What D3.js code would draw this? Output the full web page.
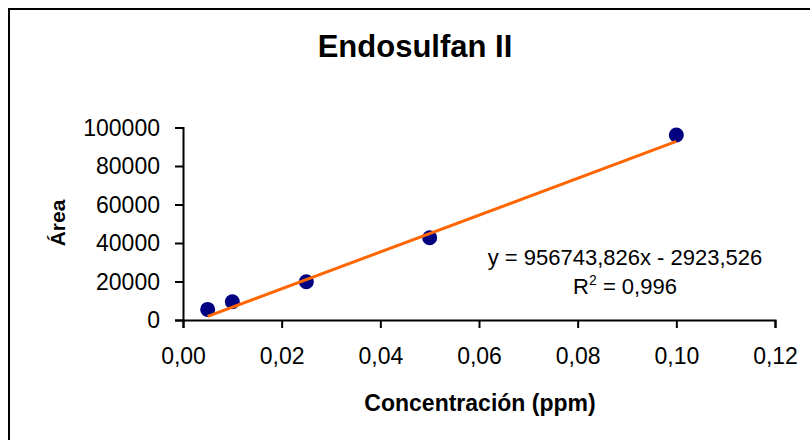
<!DOCTYPE html>
<html>
<head>
<meta charset="utf-8">
<script src="https://cdn.jsdelivr.net/npm/d3@7"></script>
<style>
  body { margin: 0; background: #fff; }
  text { font-family: Arial, "Liberation Sans", sans-serif; }
</style>
</head>
<body>
<div class="chart"></div>
<script>
// data
var concentrations = [0.005, 0.01, 0.025, 0.05, 0.1];
var areas = [5500, 9500, 19900, 42700, 96100];
var slope = 956743.826;
var intercept = -2923.526;
var xTicks = [0, 0.02, 0.04, 0.06, 0.08, 0.10, 0.12];
var yTicks = [0, 20000, 40000, 60000, 80000, 100000];

var svgWidth = 810;
var svgHeight = 440;

var margin = { top: 127.5, right: 34, bottom: 120, left: 183 };
var width = 775 - margin.left;
var height = 320 - margin.top;

var svg = d3.select(".chart")
    .append("svg")
    .attr("width", svgWidth)
    .attr("height", svgHeight);

// outer frame (runs past the window on the right and bottom)
svg.append("rect")
    .attr("x", 9).attr("y", 9)
    .attr("width", 820).attr("height", 450)
    .attr("fill", "none")
    .attr("stroke", "#000")
    .attr("stroke-width", 2);

var chartGroup = svg.append("g")
    .attr("transform", `translate(${margin.left}, ${margin.top})`);

var xScale = d3.scaleLinear().domain([0, 0.12]).range([0, width]);
var yScale = d3.scaleLinear().domain([0, 100000]).range([height, 0]);

var bottomAxis = d3.axisBottom(xScale)
    .tickValues(xTicks)
    .tickSize(8)
    .tickPadding(20)
    .tickFormat(d => d3.format(".2f")(d).replace(".", ","));
var leftAxis = d3.axisLeft(yScale)
    .tickValues(yTicks)
    .tickSize(8)
    .tickPadding(15)
    .tickFormat(d => String(d));

var xAxisG = chartGroup.append("g")
    .attr("transform", `translate(0, ${height})`)
    .call(bottomAxis);
var yAxisG = chartGroup.append("g")
    .call(leftAxis);

[xAxisG, yAxisG].forEach(function(g) {
    g.select(".domain").attr("stroke", "#000").attr("stroke-width", 2);
    g.selectAll(".tick line").attr("stroke", "#000").attr("stroke-width", 2);
    g.selectAll(".tick text")
        .attr("fill", "#000")
        .style("font-size", "23px")
        .style("font-family", "Arial, 'Liberation Sans', sans-serif");
});
yAxisG.selectAll(".tick text").attr("dy", "0.34em");

// data points
var points = concentrations.map((c, i) => ({ x: c, y: areas[i] }));
chartGroup.selectAll("circle")
    .data(points)
    .enter()
    .append("circle")
    .attr("cx", d => xScale(d.x))
    .attr("cy", d => yScale(d.y))
    .attr("r", 7.5)
    .attr("fill", "#000080");

// linear trendline
var xMin = d3.min(concentrations);
var xMax = d3.max(concentrations);
var trend = [xMin, xMax].map(x => ({ x: x, y: slope * x + intercept }));
chartGroup.append("path")
    .datum(trend)
    .attr("d", d3.line().x(d => xScale(d.x)).y(d => yScale(d.y)))
    .attr("fill", "none")
    .attr("stroke", "#FF6600")
    .attr("stroke-width", 3);

// title
svg.append("text")
    .attr("x", 415).attr("y", 57)
    .attr("text-anchor", "middle")
    .style("font-size", "31px")
    .style("font-weight", "bold")
    .text("Endosulfan II");

// axis titles
svg.append("text")
    .attr("x", 480).attr("y", 411)
    .attr("text-anchor", "middle")
    .style("font-size", "23px")
    .style("font-weight", "bold")
    .text("Concentración (ppm)");

svg.append("text")
    .attr("transform", "translate(65, 223) rotate(-90)")
    .attr("text-anchor", "middle")
    .style("font-size", "21px")
    .style("font-weight", "bold")
    .text("Área");

// regression equation
svg.append("text")
    .attr("x", 625).attr("y", 265)
    .attr("text-anchor", "middle")
    .style("font-size", "22px")
    .text("y = " + String(slope).replace(".", ",") + "x - " + String(-intercept).replace(".", ","));

var r2 = svg.append("text")
    .attr("x", 625).attr("y", 294)
    .attr("text-anchor", "middle")
    .style("font-size", "22px");
r2.append("tspan").text("R");
r2.append("tspan").attr("dy", -9).style("font-size", "14px").text("2");
r2.append("tspan").attr("dy", 9).text(" = 0,996");
</script>
</body>
</html>
